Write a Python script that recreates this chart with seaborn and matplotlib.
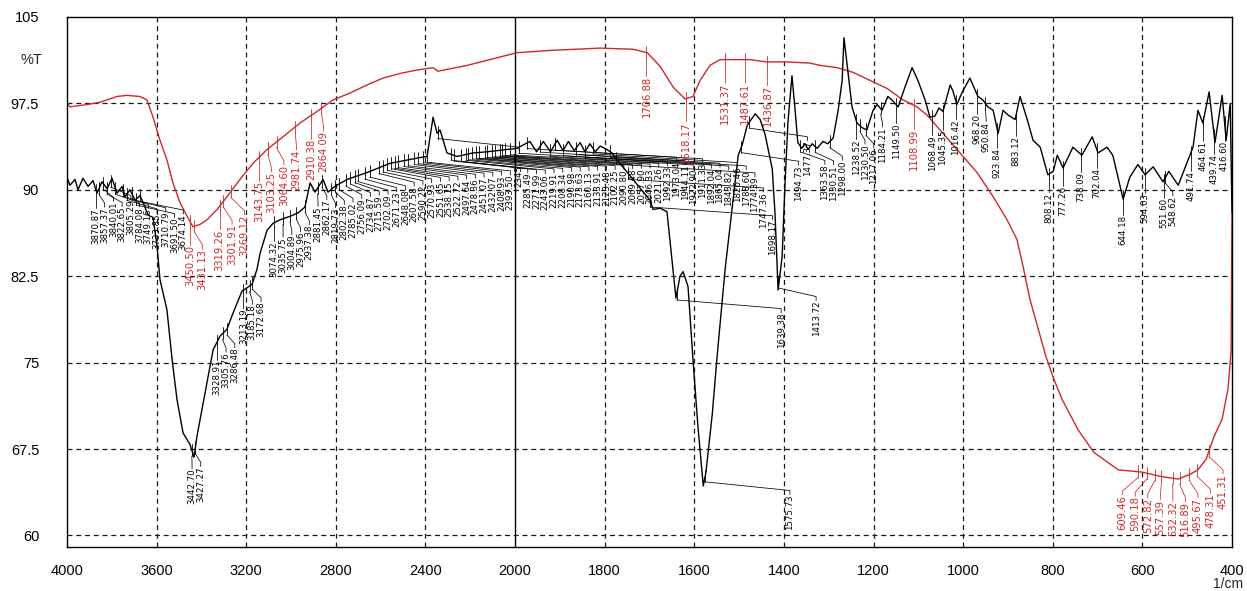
import numpy as np
import pandas as pd
import matplotlib
matplotlib.use('Agg')
import matplotlib.pyplot as plt
import seaborn as sns

# sample spectrum (black trace), wavenumber in 1/cm and %T
sample_wn = [4000, 3987, 3964, 3951, 3929, 3906, 3884, 3866, 3844, 3821, 3799, 3777, 3754, 3741,
             3719, 3696, 3674, 3652, 3638, 3616, 3598, 3585, 3554, 3531, 3509, 3482, 3451, 3433,
             3420, 3375, 3348, 3317, 3286, 3259, 3219, 3174, 3152, 3138, 3107, 3080, 3049, 3004,
             2969, 2938, 2915, 2893, 2857, 2835, 2804, 2750, 2661, 2558, 2424, 2393, 2366, 2348,
             2335, 2304, 2259, 2188, 2125, 1996, 1967, 1952, 1937, 1921, 1906, 1893, 1881, 1868,
             1855, 1844, 1833, 1821, 1810, 1795, 1784, 1766, 1699, 1692, 1676, 1661, 1654, 1641,
             1632, 1625, 1614, 1603, 1592, 1580, 1574, 1560, 1549, 1531, 1513, 1502, 1493, 1482,
             1464, 1453, 1442, 1426, 1420, 1413, 1404, 1398, 1391, 1382, 1375, 1369, 1360, 1353,
             1346, 1337, 1326, 1313, 1302, 1290, 1279, 1270, 1266, 1248, 1237, 1226, 1215, 1201,
             1192, 1181, 1168, 1159, 1145, 1130, 1114, 1101, 1085, 1074, 1063, 1054, 1045, 1029,
             1023, 1014, 1003, 985, 967, 956, 945, 933, 922, 911, 900, 884, 873, 857, 844, 828,
             811, 799, 790, 777, 755, 735, 712, 699, 679, 666, 643, 628, 610, 594, 576, 554, 541,
             520, 494, 487, 476, 465, 451, 438, 422, 413, 404, 400]
sample_t = [91.1, 90.4, 90.9, 90.0, 91.0, 90.3, 90.8, 89.7, 90.7, 90.1, 91.0, 89.7, 90.3, 89.4,
            90.0, 89.1, 89.5, 88.5, 87.8, 87.6, 85.1, 82.2, 79.6, 75.3, 71.8, 68.9, 67.9, 66.8,
            68.6, 73.3, 76.1, 77.3, 77.9, 79.3, 81.2, 81.8, 83.1, 84.5, 86.5, 87.1, 87.4, 87.7,
            88.0, 88.5, 90.6, 89.8, 90.9, 89.8, 90.3, 90.9, 91.5, 92.3, 92.8, 92.9, 96.3, 94.9,
            95.2, 93.2, 92.9, 93.2, 93.3, 93.6, 94.2, 93.3, 94.2, 93.3, 94.3, 93.4, 94.2, 93.4,
            94.1, 93.3, 94.0, 93.3, 93.8, 93.5, 93.2, 92.3, 89.1, 88.3, 88.4, 88.1, 85.5, 80.6,
            82.5, 82.9, 81.6, 75.3, 69.5, 64.3, 65.5, 70.5, 75.6, 83.2, 89.3, 93.0, 93.9, 95.6,
            96.6, 96.1, 94.8, 91.8, 88.0, 81.3, 84.2, 90.1, 95.9, 99.9, 96.9, 94.1, 93.6, 94.0,
            93.5, 94.0, 93.6, 94.2, 94.0, 94.5, 96.9, 99.5, 103.2, 97.2, 95.8, 95.4, 95.2, 96.9,
            97.4, 96.9, 98.1, 97.8, 97.2, 98.9, 100.6, 99.5, 97.8, 96.3, 96.4, 97.1, 96.8, 99.1,
            98.6, 97.4, 98.4, 99.7, 98.1, 97.8, 97.2, 96.9, 94.9, 96.9, 96.5, 96.1, 98.1, 96.1,
            94.3, 93.7, 91.3, 91.6, 93.0, 91.9, 93.7, 93.0, 94.6, 93.2, 93.7, 93.0, 89.2, 91.1,
            92.2, 91.3, 92.0, 90.7, 91.6, 90.4, 93.0, 93.7, 96.9, 95.8, 98.5, 94.1, 98.2, 94.3,
            97.5, 88.0]

# reference spectrum (red trace)
ref_wn = [4000, 3987, 3911, 3853, 3777, 3732, 3674, 3643, 3616, 3585, 3554, 3527, 3496, 3464,
          3438, 3406, 3375, 3330, 3286, 3228, 3170, 3107, 3036, 2960, 2884, 2813, 2737, 2661,
          2589, 2513, 2438, 2366, 2344, 2214, 1996, 1922, 1810, 1737, 1705, 1676, 1647, 1621,
          1603, 1587, 1565, 1543, 1476, 1438, 1393, 1342, 1319, 1281, 1246, 1208, 1170, 1134,
          1103, 1081, 1045, 1007, 969, 933, 902, 880, 866, 851, 815, 797, 779, 744, 708, 654,
          601, 556, 520, 494, 476, 458, 440, 422, 409, 402, 400]
ref_t = [97.6, 97.2, 97.4, 97.6, 98.1, 98.2, 98.1, 97.8, 96.3, 94.3, 92.6, 90.6, 88.9, 87.7,
         86.8, 87.0, 87.4, 88.3, 89.4, 90.9, 92.3, 93.5, 94.6, 95.8, 96.8, 97.8, 98.4, 99.1,
         99.7, 100.1, 100.4, 100.6, 100.3, 100.8, 101.9, 102.1, 102.3, 102.2, 101.9, 100.7, 98.9,
         97.9, 98.1, 99.5, 100.8, 101.3, 101.3, 101.1, 101.1, 101.0, 100.8, 100.6, 100.2, 99.5,
         98.8, 97.8, 97.2, 96.5, 94.9, 93.2, 91.5, 89.4, 87.4, 85.7, 83.3, 80.5, 75.5, 73.5,
         71.8, 69.2, 67.2, 65.7, 65.5, 65.1, 64.9, 65.3, 65.7, 66.6, 68.6, 70.1, 72.7, 76.0, 88.0]

sample_peaks = [3870.87, 3857.37, 3840.01, 3822.65, 3805.29, 3784.08, 3749.16, 3733.85, 3710.79,
                3691.50, 3674.14, 3442.70, 3427.27, 3328.91, 3305.76, 3286.48, 3213.19, 3185.18,
                3172.68, 3074.32, 3035.75, 3004.89, 2975.96, 2937.38, 2881.45, 2862.17, 2819.73,
                2802.38, 2785.02, 2756.09, 2734.87, 2715.59, 2702.09, 2671.23, 2648.08, 2607.58,
                2590.22, 2570.93, 2551.65, 2538.15, 2522.72, 2497.64, 2478.36, 2451.07, 2432.07,
                2408.93, 2393.50, 2345.77, 2285.49, 2271.99, 2243.06, 2219.91, 2208.34, 2190.98,
                2173.63, 2160.13, 2133.91, 2123.48, 2102.25, 2090.80, 2069.48, 2057.90, 2046.33,
                2021.26, 1992.33, 1973.04, 1944.11, 1922.90, 1911.33, 1892.04, 1865.04, 1843.82,
                1826.46, 1788.60, 1774.39, 1747.36, 1698.17, 1639.38, 1575.73, 1494.73, 1477.37,
                1413.72, 1363.58, 1330.51, 1298.00, 1238.52, 1230.50, 1217.06, 1184.21, 1149.50,
                1068.49, 1045.35, 1016.42, 968.20, 950.84, 923.84, 883.12, 808.12, 777.26, 738.09,
                702.04, 644.18, 594.03, 551.60, 548.62, 491.74, 464.61, 439.74, 416.60]
ref_peaks = [3450.50, 3431.13, 3319.26, 3301.91, 3269.12, 3143.75, 3103.25, 3064.60, 2981.74,
             2910.38, 2864.09, 1706.88, 1618.17, 1531.37, 1487.61, 1436.87, 1108.99, 609.46,
             590.18, 572.82, 557.39, 532.32, 516.89, 495.67, 478.31, 451.31]

x_major = [4000, 3600, 3200, 2800, 2400, 2000, 1800, 1600, 1400, 1200, 1000, 800, 600, 400]
y_major = [60, 67.5, 75, 82.5, 90, 97.5, 105]
y_labels = ['60', '67.5', '75', '82.5', '90', '97.5', '105']

RED = '#d0282a'


# the 4000-2000 range is drawn at half scale, like the instrument print
def fwd(w):
    w = np.asarray(w, dtype=float)
    return np.where(w > 2000, 2000 + (w - 2000) / 2, w)


def inv(u):
    u = np.asarray(u, dtype=float)
    return np.where(u > 2000, 2000 + (u - 2000) * 2, u)


def spread(peaks, du, u_right):
    # push labels to the right so they don't overlap, keep inside the frame
    p = np.array(sorted(peaks, reverse=True))
    u = fwd(p)
    lab = u.copy()
    for i in range(1, len(lab)):
        lab[i] = min(u[i], lab[i - 1] - du)
    lab[-1] = max(lab[-1], u_right)
    for i in range(len(lab) - 2, -1, -1):
        lab[i] = max(lab[i], lab[i + 1] + du)
    return p, inv(lab)


def annotate(ax, wn, t, peaks, du, u_right, gap, color, size):
    p, lx = spread(peaks, du, u_right)
    tp = np.interp(p, wn[::-1], t[::-1])
    for pw, lw_, tv in zip(p, lx, tp):
        top = tv - gap
        ax.plot([pw, pw], [tv + 0.55, tv - 0.5], color=color, lw=0.6)
        ax.plot([pw, lw_, lw_], [tv - 0.5, top + 0.35, top], color=color, lw=0.55)
        ax.text(lw_, top, f'{pw:.2f}', rotation=90, ha='center', va='top',
                fontsize=size, color=color, family='DejaVu Sans')


sns.set_style('white')
plt.rcParams['font.family'] = ['Liberation Sans', 'DejaVu Sans']

fig = plt.figure(figsize=(12.47, 5.91), dpi=100)
ax = fig.add_axes([67 / 1247, 1 - 547 / 591, 1165 / 1247, 530 / 591])
ax.set_xscale('function', functions=(fwd, inv))

sample = pd.DataFrame({'wn': sample_wn, 'T': sample_t})
ref = pd.DataFrame({'wn': ref_wn, 'T': ref_t})
sns.lineplot(data=ref, x='wn', y='T', sort=False, estimator=None, color=RED, lw=1.0, ax=ax)
sns.lineplot(data=sample, x='wn', y='T', sort=False, estimator=None, color='black', lw=1.0, ax=ax)

sw, st = np.array(sample_wn, float), np.array(sample_t, float)
rw, rt = np.array(ref_wn, float), np.array(ref_t, float)
annotate(ax, sw, st, sample_peaks, 19.5, 412, 1.6, 'black', 6.2)
annotate(ax, rw, rt, ref_peaks, 28.0, 420, 2.0, RED, 7.2)

# grid
for y in y_major[:-1]:
    ax.axhline(y, color='0.1', lw=0.9, ls=(0, (4, 3)), zorder=0)
for x in x_major[1:-1]:
    if x == 2000:
        ax.axvline(x, color='black', lw=1.0, zorder=0)
    else:
        ax.axvline(x, color='0.1', lw=0.9, ls=(0, (4, 3)), zorder=0)

ax.set_xlim(4000, 400)
ax.set_ylim(59.0, 105)
ax.set_xticks(x_major)
ax.set_xticklabels([str(v) for v in x_major])
minor_x = np.concatenate([np.arange(4000, 2000, -80), np.arange(2000, 399, -40)])
ax.set_xticks(minor_x, minor=True)
ax.set_yticks(y_major)
ax.set_yticklabels(y_labels)
ax.set_yticks(np.arange(60, 105.1, 1.5), minor=True)
ax.set_xlabel('')
ax.set_ylabel('')

ax.tick_params(axis='x', which='both', direction='out', length=7, width=0.8, pad=5,
               labelsize=10.5, colors='black')
ax.tick_params(axis='y', which='major', direction='out', length=16, width=0.8, pad=4,
               labelsize=10.5, colors='black')
ax.tick_params(axis='y', which='minor', direction='out', length=7, width=0.8)
for s in ax.spines.values():
    s.set_color('black')
    s.set_linewidth(1.0)

fig.text(31 / 1247, 1 - 60 / 591, '%T', ha='center', va='center', fontsize=10.5)
fig.text(1228 / 1247, 1 - 584 / 591, '1/cm', ha='center', va='center', fontsize=10)

fig.savefig('out.png', dpi=100, facecolor='white')
